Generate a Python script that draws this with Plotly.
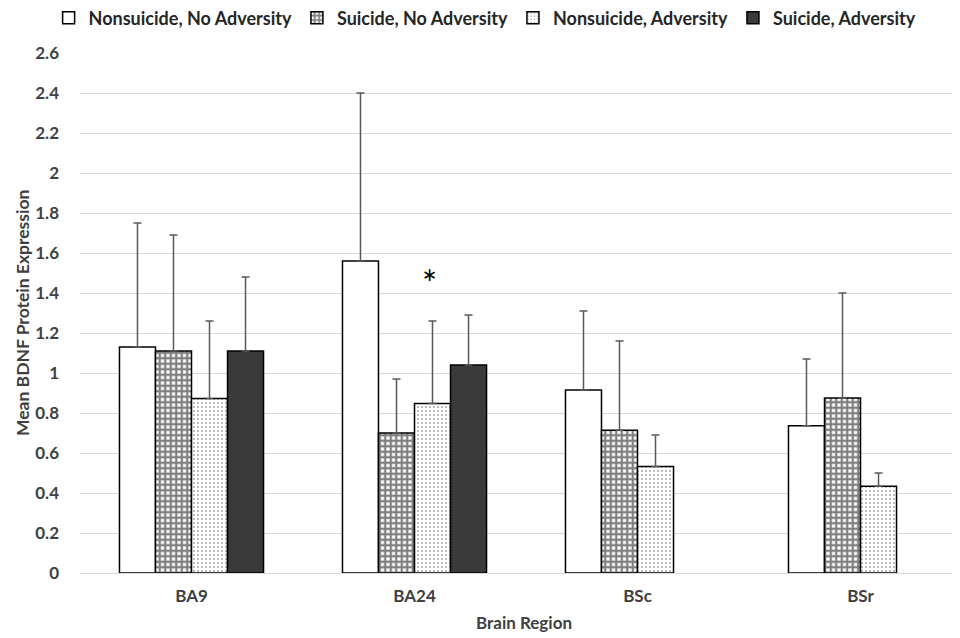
import plotly.graph_objects as go

regions = ["BA9", "BA24", "BSc", "BSr"]
series_names = ["Nonsuicide, No Adversity", "Suicide, No Adversity",
                "Nonsuicide, Adversity", "Suicide, Adversity"]
means = [
    [1.13, 1.56, 0.915, 0.736],
    [1.11, 0.70, 0.714, 0.875],
    [0.873, 0.847, 0.532, 0.434],
    [1.11, 1.04, None, None],
]
upper = [
    [1.75, 2.40, 1.31, 1.07],
    [1.69, 0.97, 1.16, 1.40],
    [1.26, 1.26, 0.69, 0.50],
    [1.48, 1.29, None, None],
]
y_ticks = [0, 0.2, 0.4, 0.6, 0.8, 1, 1.2, 1.4, 1.6, 1.8, 2, 2.2, 2.4, 2.6]
y_tick_text = ["0", "0.2", "0.4", "0.6", "0.8", "1", "1.2", "1.4", "1.6", "1.8", "2", "2.2", "2.4", "2.6"]
x_title = "Brain Region"
y_title = "Mean BDNF Protein Expression"
star_region = "BA24"
star_value = 1.48

fills = ["white", "white", "white", "#3a3a3a"]
patterns = [None,
            dict(shape="+", fgcolor="#000000", bgcolor="white", size=5.5, solidity=0.65),
            dict(shape=".", fgcolor="#444444", bgcolor="white", size=4, solidity=0.18),
            None]

FONT = "Lato"
fig = go.Figure()
for i, name in enumerate(series_names):
    errs = [None if (u is None or m is None) else u - m for u, m in zip(upper[i], means[i])]
    kw = {}
    if patterns[i]:
        kw["marker_pattern"] = patterns[i]
    fig.add_trace(go.Bar(
        x=regions, y=means[i], name=name,
        marker=dict(color=fills[i], line=dict(color="black", width=1.5)),
        error_y=dict(type="data", symmetric=False, array=errs,
                     arrayminus=[0] * len(errs), color="#595959", thickness=1.5, width=4),
        **kw,
    ))

fig.add_annotation(x=star_region, y=star_value, text="*", showarrow=False,
                   xshift=15, yshift=-6, font=dict(family=FONT, size=36, color="black"))
title_font = dict(family=FONT, size=17.5, color="#404040", weight="bold")
fig.add_annotation(xref="paper", yref="paper", x=0, y=0.5, xshift=-58, textangle=-90,
                   xanchor="center", yanchor="middle", text=y_title, showarrow=False,
                   font=title_font)
fig.add_annotation(xref="paper", yref="paper", x=0.5, y=0, yshift=-49,
                   xanchor="center", yanchor="middle", text=x_title, showarrow=False,
                   font=dict(family=FONT, size=17, color="#404040", weight="bold"))

fig.update_layout(
    width=960, height=638,
    margin=dict(l=72, r=0, t=45, b=73, autoexpand=False),
    paper_bgcolor="white", plot_bgcolor="white",
    barmode="group", bargap=0.354, bargroupgap=0,
    font=dict(family=FONT, color="#404040"),
    legend=dict(orientation="h", x=0.497, xanchor="center", xref="container",
                y=1.067, yanchor="middle", yref="paper", itemwidth=30,
                font=dict(family=FONT, size=18, color="#262626", weight="bold"),
                traceorder="normal"),
    xaxis=dict(range=[-0.5, 3.482], showgrid=False, showline=True, linecolor="#d9d9d9",
               linewidth=1, ticks="", ticklabelstandoff=8,
               tickfont=dict(family=FONT, size=17, color="#404040", weight="bold")),
    yaxis=dict(range=[0, 2.6], tickvals=y_ticks, ticktext=y_tick_text,
               showgrid=True, gridcolor="#d9d9d9", gridwidth=1, zeroline=False,
               ticklabelstandoff=20,
               tickfont=dict(family=FONT, size=17, color="#404040", weight="bold")),
)
fig.write_html("out.html")
